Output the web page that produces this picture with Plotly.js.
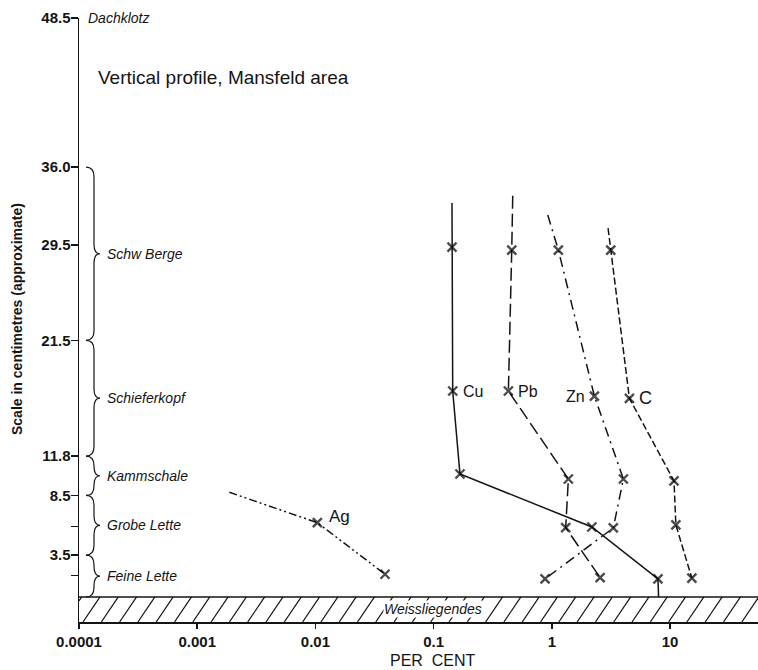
<!DOCTYPE html>
<html><head><meta charset="utf-8">
<script src="https://cdn.plot.ly/plotly-3.0.1.min.js"></script>
<style>html,body{margin:0;padding:0;background:#fff}#chart{width:758px;height:670px}</style>
</head><body><div id="chart"></div>
<script>
// ---- strata (height in cm above the Weissliegendes) ----
const strataNames = ['Schw Berge','Schieferkopf','Kammschale','Grobe Lette','Feine Lette'];
const strataTop   = [36.0, 21.5, 11.8, 8.5, 3.5];
const strataBase  = [21.5, 11.8, 8.5, 3.5, 0];
const roofName = 'Dachklotz';
const roofHeight = 48.5;
const floorName = 'Weissliegendes';
const floorTop = 0;
const floorBase = -2.1;

// ---- axis ticks ----
const yTickVals = [48.5, 36.0, 29.5, 21.5, 11.8, 8.5, 5.9, 3.5, 1.8];
const yTickText = ['48.5','36.0','29.5','21.5','11.8','8.5','','3.5',''];
const xTickVals = [0.0001, 0.001, 0.01, 0.1, 1, 10];
const xTickText = ['0.0001','0.001','0.01','0.1','1','10'];

// ---- series (per cent vs height); sample flag marks measured points (x) ----
const cuPct    = [0.143, 0.143, 0.145, 0.167, 2.18, 7.9, 8.0];
const cuHeight = [33.0, 29.3, 17.25, 10.3, 5.86, 1.51, 0];
const cuSample = [0, 1, 1, 1, 1, 1, 0];

const pbPct    = [0.467, 0.458, 0.429, 1.38, 1.31, 2.56];
const pbHeight = [33.6, 29.06, 17.25, 9.88, 5.80, 1.62];
const pbSample = [0, 1, 1, 1, 1, 1];

const znPct    = [0.923, 1.135, 2.29, 4.03, 3.31, 0.876];
const znHeight = [32.0, 29.06, 16.83, 9.88, 5.78, 1.51];
const znSample = [0, 1, 1, 1, 1, 1];

const cPct     = [2.99, 3.15, 4.53, 10.8, 11.2, 15.3];
const cHeight  = [30.9, 29.06, 16.64, 9.72, 6.03, 1.57];
const cSample  = [0, 1, 1, 1, 1, 1];

const agPct    = [0.00187, 0.01038, 0.0388];
const agHeight = [8.77, 6.22, 1.90];
const agSample = [0, 1, 1];

const ink = '#141414';
const FONT = '"Liberation Sans", Arial, Helvetica, sans-serif';

const series = [
  {name:'Cu', x:cuPct, y:cuHeight, s:cuSample, dash:'solid', li:2, anchor:'left', dx:8, dy:0, fs:16},
  {name:'Pb', x:pbPct, y:pbHeight, s:pbSample, dash:'13px,5px', li:2, anchor:'left', dx:8, dy:0, fs:16},
  {name:'Zn', x:znPct, y:znHeight, s:znSample, dash:'10px,5px,2px,5px', li:2, anchor:'right', dx:-7, dy:0, fs:16},
  {name:'C',  x:cPct,  y:cHeight,  s:cSample,  dash:'7px,3px', li:2, anchor:'left', dx:8, dy:0, fs:18},
  {name:'Ag', x:agPct, y:agHeight, s:agSample, dash:'8px,3px,2px,3px,2px,3px', li:1, anchor:'left', dx:10, dy:6, fs:17}
];

const traces = series.map(sr => ({
  type:'scatter', mode:'lines+markers', x:sr.x, y:sr.y, name:sr.name,
  line:{color:ink, width:1.5, dash:sr.dash},
  marker:{symbol:'x-thin', size:sr.s.map(v => v ? 9 : 0), color:ink, line:{color:'#000000', width:2.4}},
  hoverinfo:'skip', cliponaxis:false
}));

// ---- geometry helpers (pixels -> paper) ----
const W = 758, H = 670, mL = 79, mR = 0, mT = 18, mB = 48;
const pw = W - mL - mR;
const px2paper = p => p / pw;

const shapes = [];
// braces
strataNames.forEach((nm, i) => {
  const y0 = strataTop[i], y1 = strataBase[i], ym = (y0 + y1) / 2;
  const r = Math.min(0.8, (y0 - y1) / 4);
  const xl = px2paper(7), xs = px2paper(15), xt = px2paper(21);
  const path = `M ${xl},${y0} Q ${xs},${y0} ${xs},${y0 - r} L ${xs},${ym + r} Q ${xs},${ym} ${xt},${ym} ` +
               `Q ${xs},${ym} ${xs},${ym - r} L ${xs},${y1 + r} Q ${xs},${y1} ${xl},${y1}`;
  shapes.push({type:'path', xref:'paper', yref:'y', path:path, line:{color:ink, width:1.2}});
});
// floor band top line
shapes.push({type:'line', xref:'paper', yref:'y', x0:0, x1:1, y0:floorTop, y1:floorTop, line:{color:ink, width:1.5}});
// hatch lines
const spacing = 18.3, slant = 17;
for (let k = -1; k < 40; k++) {
  let xb = 4 + k * spacing, xt = xb + slant;
  let yb = floorBase, yt = floorTop;
  if (xt <= 0 || xb >= pw) continue;
  if (xb < 0) { const t = -xb / slant; yb = floorBase + t * (floorTop - floorBase); xb = 0; }
  if (xt > pw) { const t = (pw - (xt - slant)) / slant; yt = floorBase + t * (floorTop - floorBase); xt = pw; }
  shapes.push({type:'line', xref:'paper', yref:'y', x0:px2paper(xb), x1:px2paper(xt), y0:yb, y1:yt, line:{color:ink, width:1.2}});
}

const annotations = [];
// strata labels
strataNames.forEach((nm, i) => {
  annotations.push({xref:'paper', yref:'y', x:px2paper(26), y:(strataTop[i] + strataBase[i]) / 2,
    text:'<i>' + nm + '</i>', showarrow:false, xanchor:'left', yanchor:'middle',
    font:{family:FONT, size:14, color:ink}});
});
annotations.push({xref:'paper', yref:'y', x:px2paper(7), y:roofHeight, text:'<i>' + roofName + '</i>',
  showarrow:false, xanchor:'left', yanchor:'middle', font:{family:FONT, size:14, color:ink}});
annotations.push({xref:'paper', yref:'y', x:px2paper(354), y:(floorTop + floorBase) / 2, text:'<i>' + floorName + '</i>',
  showarrow:false, xanchor:'center', yanchor:'middle', bgcolor:'#ffffff', borderpad:0,
  font:{family:FONT, size:14, color:ink}});
// series labels
series.forEach(sr => {
  annotations.push({xref:'x', yref:'y', x:Math.log10(sr.x[sr.li]), y:sr.y[sr.li], text:sr.name,
    showarrow:false, xanchor:sr.anchor, yanchor:'middle', xshift:sr.dx, yshift:sr.dy,
    font:{family:FONT, size:sr.fs, color:ink}});
});
// title & axis titles
annotations.push({xref:'paper', yref:'paper', x:px2paper(17), y:1 - (77 - mT) / (H - mT - mB),
  text:'Vertical profile, Mansfeld area', showarrow:false, xanchor:'left', yanchor:'middle',
  font:{family:FONT, size:19, color:ink}});
annotations.push({xref:'paper', yref:'paper', x:px2paper(17 - mL), y:1 - (319 - mT) / (H - mT - mB),
  text:'<b>Scale in centimetres (approximate)</b>', textangle:-90, showarrow:false, xanchor:'center', yanchor:'middle',
  font:{family:FONT, size:14, color:ink}});
annotations.push({xref:'paper', yref:'paper', x:px2paper(433 - mL), y:-(660 - (H - mB)) / (H - mT - mB),
  text:'PER\u00a0\u00a0CENT', showarrow:false, xanchor:'center', yanchor:'middle',
  font:{family:FONT, size:16, color:ink}});

const layout = {
  width:W, height:H, margin:{l:mL, r:mR, t:mT, b:mB, pad:0},
  paper_bgcolor:'#ffffff', plot_bgcolor:'#ffffff', showlegend:false,
  font:{family:FONT, color:ink},
  xaxis:{type:'log', range:[-4, 1.744], tickvals:xTickVals, ticktext:xTickText,
    showline:true, linecolor:ink, linewidth:1.5, ticks:'outside', ticklen:5, tickwidth:1.5, tickcolor:ink,
    showgrid:false, zeroline:false, tickfont:{family:FONT, size:15, color:ink, weight:'bold'}},
  yaxis:{range:[floorBase, roofHeight], tickvals:yTickVals, ticktext:yTickText,
    showline:true, linecolor:ink, linewidth:1.5, ticks:'outside', ticklen:7, tickwidth:1.5, tickcolor:ink,
    ticklabelstandoff:-3,
    showgrid:false, zeroline:false, tickfont:{family:FONT, size:15, color:ink, weight:'bold'}},
  shapes:shapes, annotations:annotations
};

Plotly.newPlot('chart', traces, layout, {displayModeBar:false, staticPlot:true});
</script>
</body></html>
